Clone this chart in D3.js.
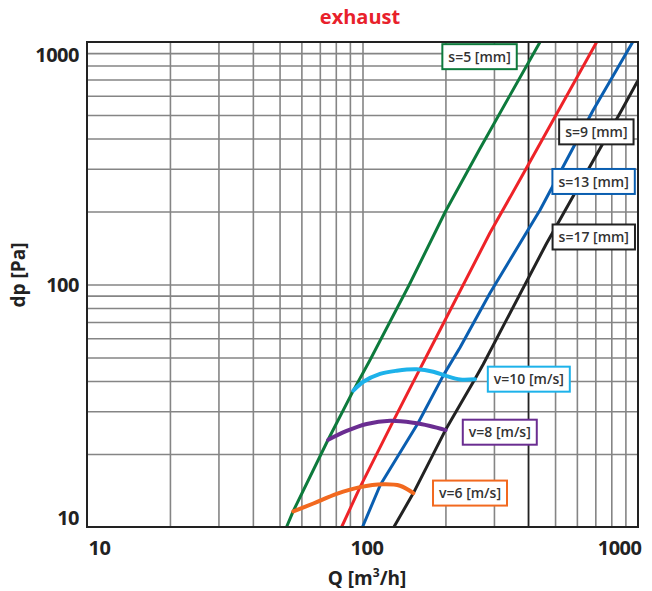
<!DOCTYPE html>
<html>
<head>
<meta charset="utf-8">
<script src="https://cdn.jsdelivr.net/npm/d3@7"></script>
<style>
  html, body { margin: 0; padding: 0; background: #fff; }
  svg { display: block; font-family: "Open Sans", "Noto Sans", sans-serif; }
</style>
</head>
<body>
<svg id="chart" width="652" height="591"></svg>
<script>
// ---------- data ----------
const xTickLabels = [10, 100, 1000];
const yTickLabels = [10, 100, 1000];
const highlightQ = [400];

// pressure-drop curves per slot width s (Q [m3/h], dp [Pa])
const s5  = [[53,10],[56,11.6],[75,22.9],[92.6,36.5],[106.5,48.8],[148,100],[200,200],[267,364],[441,1000]];
const s9  = [[84,10],[98,14.6],[129,27.2],[162,45.1],[168,48.8],[290,163],[378,278],[708,1000]];
const s13 = [[100,10],[116,14.9],[159,26.8],[197,42.4],[226,55],[290,92],[441,203],[688,524],[957,1000]];
const s17 = [[130,10],[153,13.8],[200,25.1],[256,40.8],[274,46.8],[466,148],[873,524],[994,686]];

// constant velocity curves
const v10 = [[92.6,36.5],[100.7,39.7],[115.8,42.8],[133.1,44.1],[157.3,44.7],[180.7,43.7],[202.1,41.9],[225.9,40.6],[256,40.7]];
const v8  = [[75.1,22.9],[87.6,24.9],[103.6,26.6],[125.9,27.4],[152.9,26.9],[175.8,26.1],[200.4,25.1]];
const v6  = [[56.1,11.6],[66.3,12.5],[80.6,13.7],[97.9,14.6],[119,15.0],[136.8,14.8],[152.9,13.8]];

const seriesNames = ["s=5 [mm]","s=9 [mm]","s=13 [mm]","s=17 [mm]","v=10 [m/s]","v=8 [m/s]","v=6 [m/s]"];
// label anchors in data space (Q, dp)
const labelQ  = [266, 706, 690, 691, 401.5, 315, 245.6];
const labelDp = [870, 426, 266, 157, 40.7, 24.6, 13.8];

// ---------- styles / layout ----------
const sColors = ["#0d7a3c", "#ee2328", "#0a5eb0", "#222222"];
const vColors = ["#1db2ea", "#6a2d91", "#f2691f"];
const labelBorders = ["#0d7a3c", "#222222", "#0a5eb0", "#222222", "#1db2ea", "#6a2d91", "#f2691f"];

const svg = d3.select("#chart");
const L = 87, R = 638, T = 42, B = 527;

const x = d3.scaleLog().domain([10, 1000]).range([L, R]);
const y = d3.scaleLog().domain([10, 1000]).range([B, T]);

const gridVals = [];
[10, 100].forEach(d => { for (let k = 1; k <= 9; k++) { const v = d * k; if (v > 10) gridVals.push(v); } });

// clip
svg.append("defs").append("clipPath").attr("id", "clip")
  .append("rect").attr("x", L).attr("y", T).attr("width", R - L).attr("height", B - T);

// grid via axes
const gx = svg.append("g").attr("transform", `translate(0,${B})`)
  .call(d3.axisBottom(x).tickValues(gridVals.filter(v => v < 1000)).tickSize(-(B - T)).tickFormat(""));
const gy = svg.append("g").attr("transform", `translate(${L},0)`)
  .call(d3.axisLeft(y).tickValues(gridVals.filter(v => v < 1000)).tickSize(-(R - L)).tickFormat(""));
[gx, gy].forEach(g => {
  g.select(".domain").remove();
  g.selectAll(".tick line").attr("stroke", "#858585").attr("stroke-width", 1.6);
});

// highlighted vertical line
svg.append("g").selectAll("line").data(highlightQ).join("line")
  .attr("x1", d => x(d)).attr("x2", d => x(d)).attr("y1", T).attr("y2", B)
  .attr("stroke", "#222").attr("stroke-width", 1.5);

// curves
const line = d3.line().x(d => x(d[0])).y(d => y(d[1]));
const smooth = d3.line().x(d => x(d[0])).y(d => y(d[1])).curve(d3.curveCatmullRom.alpha(0.5));
const plot = svg.append("g").attr("clip-path", "url(#clip)");

[s5, s9, s13, s17].forEach((s, i) => {
  plot.append("path").datum(s).attr("d", line)
    .attr("fill", "none").attr("stroke", sColors[i]).attr("stroke-width", 3)
    .attr("stroke-linejoin", "round").attr("stroke-linecap", "round");
});
[v10, v8, v6].forEach((s, i) => {
  plot.append("path").datum(s).attr("d", smooth)
    .attr("fill", "none").attr("stroke", vColors[i]).attr("stroke-width", 4)
    .attr("stroke-linecap", "round");
});

// frame
svg.append("rect").attr("x", L).attr("y", T).attr("width", R - L).attr("height", B - T)
  .attr("fill", "none").attr("stroke", "#222").attr("stroke-width", 2);

// tick labels via axes
const ax = svg.append("g").attr("transform", `translate(0,${B})`)
  .call(d3.axisBottom(x).tickValues(xTickLabels).tickSize(0).tickPadding(14).tickFormat(d3.format("d")));
ax.select(".domain").remove();
ax.selectAll("text").attr("font-size", 20).attr("font-weight", 700).attr("fill", "#222")
  .attr("font-family", "'Open Sans', sans-serif").attr("letter-spacing", -0.5)
  .attr("text-anchor", (d, i) => i === 0 ? "start" : i === xTickLabels.length - 1 ? "end" : "middle")
  .attr("dx", (d, i) => i === 0 ? 1 : i === xTickLabels.length - 1 ? 3 : 4);

const ay = svg.append("g").attr("transform", `translate(${L},0)`)
  .call(d3.axisLeft(y).tickValues(yTickLabels).tickSize(0).tickPadding(8).tickFormat(d3.format("d")));
ay.select(".domain").remove();
ay.selectAll("text").attr("font-size", 20).attr("font-weight", 700).attr("fill", "#222")
  .attr("font-family", "'Open Sans', sans-serif").attr("letter-spacing", -0.5)
  .attr("dy", (d, i) => i === 0 ? "-0.12em" : i === yTickLabels.length - 1 ? "0.98em" : "0.36em");

// series labels
const labels = svg.append("g");
seriesNames.forEach((name, i) => {
  const g = labels.append("g").attr("transform", `translate(${x(labelQ[i])},${y(labelDp[i])})`);
  const rect = g.append("rect");
  const t = g.append("text").text(name).attr("text-anchor", "middle").attr("dy", "0.36em")
    .attr("font-size", 14).attr("font-weight", 600).attr("fill", "#333");
  const bb = t.node().getBBox();
  const w = bb.width + 12, h = 25;
  rect.attr("x", -w / 2).attr("y", -h / 2).attr("width", w).attr("height", h)
    .attr("fill", "#fff").attr("stroke", labelBorders[i]).attr("stroke-width", 2);
});

// titles
svg.append("text").attr("x", 360).attr("y", 24).attr("text-anchor", "middle")
  .attr("font-size", 20).attr("font-weight", 700).attr("fill", "#e8212b").text("exhaust");
svg.append("text").attr("x", 367).attr("y", 585).attr("text-anchor", "middle")
  .attr("font-size", 19).attr("font-weight", 700).attr("fill", "#222")
  .html('Q [m<tspan baseline-shift="super" font-size="12">3</tspan>/h]');
svg.append("text").attr("transform", "translate(25,275) rotate(-90)").attr("text-anchor", "middle")
  .attr("font-size", 19).attr("font-weight", 700).attr("fill", "#222").text("dp [Pa]");
</script>
</body>
</html>
